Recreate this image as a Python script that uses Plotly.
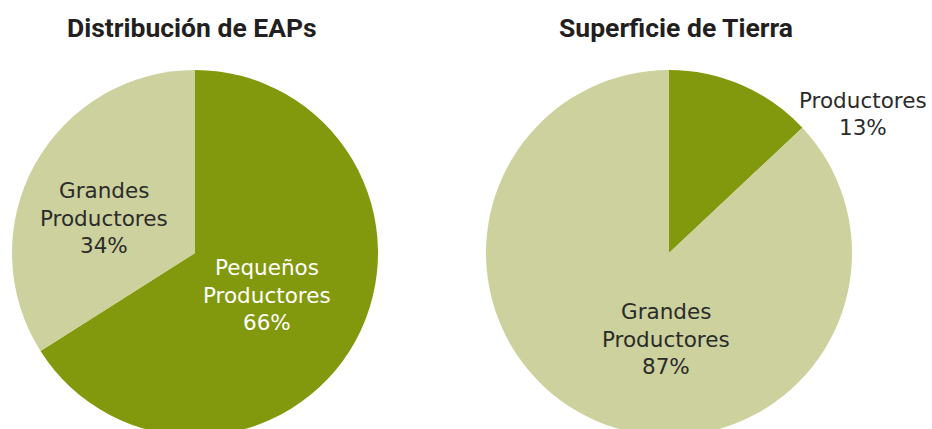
import plotly.graph_objects as go

labels = ["Pequeños Productores", "Grandes Productores"]
eaps_values = [66, 34]
tierra_values = [13, 87]
titles = ["Distribución de EAPs", "Superficie de Tierra"]
colors = ["#83990D", "#CCD19D"]

W, H = 932, 440

def dom(x0, x1, top, bottom):
    return dict(x=[x0 / W, x1 / W], y=[1 - bottom / H, 1 - top / H])

fig = go.Figure()
fig.add_trace(go.Pie(labels=labels, values=eaps_values, sort=False, direction="clockwise",
                     rotation=0, marker=dict(colors=colors, line=dict(width=0)),
                     textinfo="none", hoverinfo="label+percent",
                     domain=dom(12, 378, 70, 436), showlegend=False))
fig.add_trace(go.Pie(labels=labels, values=tierra_values, sort=False, direction="clockwise",
                     rotation=0, marker=dict(colors=colors, line=dict(width=0)),
                     textinfo="none", hoverinfo="label+percent",
                     domain=dom(486, 852, 70, 436), showlegend=False))

lab_font = dict(family="DejaVu Sans", size=21.5)
LINE = 27.5

ann = [
    dict(x=192 / W, y=1 - 28 / H, text=f"<b>{titles[0]}</b>"),
    dict(x=676 / W, y=1 - 28 / H, text=f"<b>{titles[1]}</b>"),
]
for a in ann:
    a.update(xref="paper", yref="paper", showarrow=False, xanchor="center", yanchor="middle",
             font=dict(family="Roboto", size=26.5, color="#231F20"))

def lines(i, vals, skip_first=False):
    parts = labels[i].split(" ") + [f"{vals[i]}%"]
    return parts[1:] if skip_first else parts

texts = [
    (104, 218, lines(1, eaps_values), "#2B2B2B"),
    (267, 295, lines(0, eaps_values), "#FFFFFF"),
    (666, 339, lines(1, tierra_values), "#2B2B2B"),
    (863, 114, lines(0, tierra_values, skip_first=True), "#2B2B2B"),
]
for x, yc, parts, c in texts:
    n = len(parts)
    for k, t in enumerate(parts):
        y = yc + (k - (n - 1) / 2) * LINE
        ann.append(dict(x=x / W, y=1 - y / H, xref="paper", yref="paper", text=t, showarrow=False,
                        xanchor="center", yanchor="middle", align="center",
                        font=dict(lab_font, color=c)))

fig.update_layout(width=W, height=H, margin=dict(l=0, r=0, t=0, b=0),
                  paper_bgcolor="white", plot_bgcolor="white", annotations=ann)

fig.write_html("out.html", config={"displayModeBar": False},
               post_script="document.documentElement.style.overflow='hidden';document.body.style.margin='0';document.body.style.overflow='hidden';")
